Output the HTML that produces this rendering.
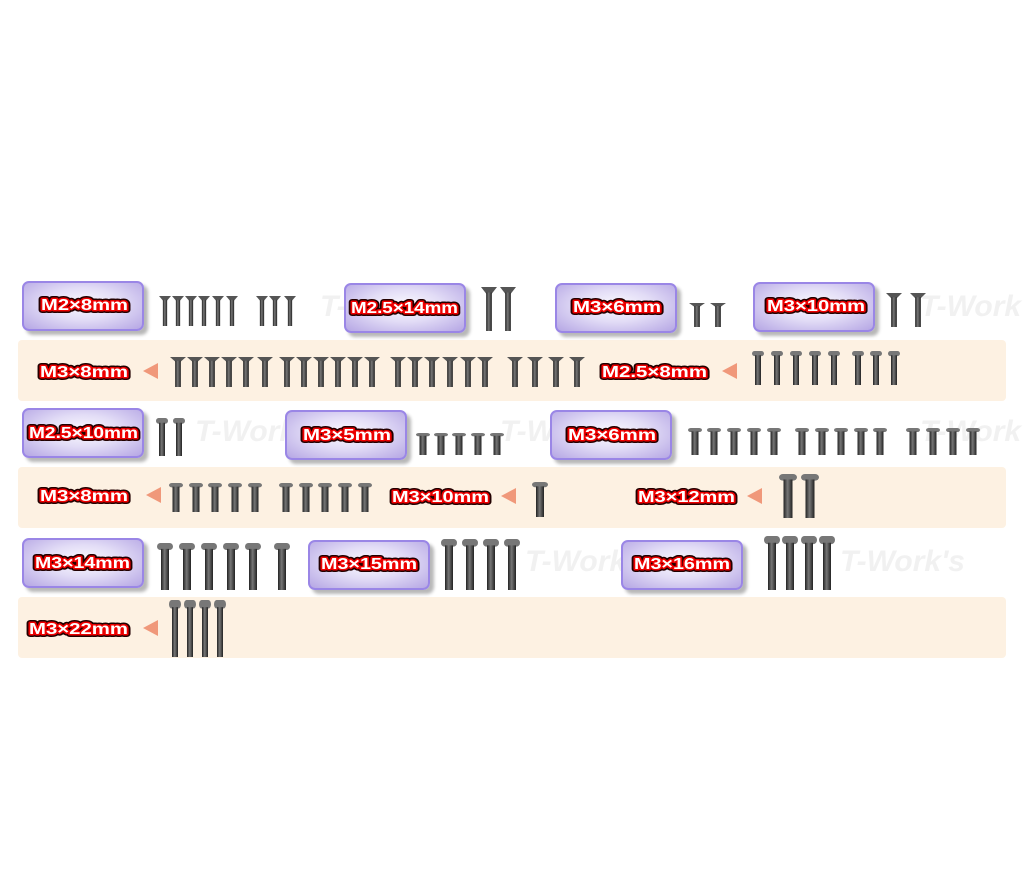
<!DOCTYPE html>
<html><head><meta charset="utf-8"><style>
body{margin:0;width:1024px;height:874px;background:#fff;position:relative;overflow:hidden;font-family:"Liberation Sans",sans-serif}
.band{position:absolute;left:18px;width:988px;height:61px;background:#fdf1e2;border-radius:4px}
.box{position:absolute;width:118px;height:46px;border:2px solid #9a86e6;border-radius:7px;background:radial-gradient(ellipse at 50% 45%,#fbfaff 0%,#e2dcf6 45%,#b5a6e4 100%);box-shadow:4px 4px 3px #b8b8b8}
.tri{position:absolute;width:0;height:0;border-top:8px solid transparent;border-bottom:8px solid transparent;border-right:15px solid #f0987a}
.wm{position:absolute;color:#f1f1f1;font-size:30px;font-style:italic;font-weight:bold;white-space:nowrap}
svg{position:absolute;left:0;top:0}
text{font-family:"Liberation Sans",sans-serif;font-weight:bold;font-size:16px}
.o{stroke:#200;stroke-width:6;stroke-linejoin:round;fill:#200}
.r{stroke:#e00;stroke-width:3;stroke-linejoin:round;fill:#fff;paint-order:stroke fill}
</style></head><body>
<div class="band" style="top:340px"></div>
<div class="band" style="top:467px"></div>
<div class="band" style="top:597px"></div>
<div class="wm" style="left:320px;top:290px">T-Work's</div>
<div class="wm" style="left:920px;top:290px">T-Work's</div>
<div class="wm" style="left:195px;top:415px">T-Work's</div>
<div class="wm" style="left:500px;top:415px">T-Work's</div>
<div class="wm" style="left:920px;top:415px">T-Work's</div>
<div class="wm" style="left:525px;top:545px">T-Work's</div>
<div class="wm" style="left:840px;top:545px">T-Work's</div>

<div class="box" style="left:22px;top:281px"></div>
<div class="box" style="left:344px;top:283px"></div>
<div class="box" style="left:555px;top:283px"></div>
<div class="box" style="left:753px;top:282px"></div>
<div class="tri" style="left:143px;top:363px"></div>
<div class="tri" style="left:722px;top:363px"></div>
<div class="box" style="left:22px;top:408px"></div>
<div class="box" style="left:285px;top:410px"></div>
<div class="box" style="left:550px;top:410px"></div>
<div class="tri" style="left:146px;top:487px"></div>
<div class="tri" style="left:501px;top:488px"></div>
<div class="tri" style="left:747px;top:488px"></div>
<div class="box" style="left:22px;top:538px"></div>
<div class="box" style="left:308px;top:540px"></div>
<div class="box" style="left:621px;top:540px"></div>
<div class="tri" style="left:143px;top:620px"></div>

<svg width="1024" height="874">
<defs>
<linearGradient id="g" x1="0" x2="1"><stop offset="0" stop-color="#222"/><stop offset=".45" stop-color="#777"/><stop offset="1" stop-color="#222"/></linearGradient>
<symbol id="cs" viewBox="0 0 14 40" preserveAspectRatio="none"><polygon points="0,0 14,0 9.5,6 4.5,6" fill="#555"/><rect x="4.5" y="5" width="5" height="35" fill="url(#g)"/></symbol>
<symbol id="bt" viewBox="0 0 14 40" preserveAspectRatio="none"><rect x="0" y="0" width="14" height="6" rx="3" fill="#777"/><rect x="3.5" y="5" width="7" height="35" fill="url(#g)"/></symbol>
</defs>
<g>
<text class="o" x="41" y="310" textLength="87" lengthAdjust="spacingAndGlyphs">M2×8mm</text><text class="r" x="41" y="310" textLength="87" lengthAdjust="spacingAndGlyphs">M2×8mm</text>
<text class="o" x="351" y="313" textLength="107" lengthAdjust="spacingAndGlyphs">M2.5×14mm</text><text class="r" x="351" y="313" textLength="107" lengthAdjust="spacingAndGlyphs">M2.5×14mm</text>
<text class="o" x="573" y="312" textLength="88" lengthAdjust="spacingAndGlyphs">M3×6mm</text><text class="r" x="573" y="312" textLength="88" lengthAdjust="spacingAndGlyphs">M3×6mm</text>
<text class="o" x="767" y="311" textLength="98" lengthAdjust="spacingAndGlyphs">M3×10mm</text><text class="r" x="767" y="311" textLength="98" lengthAdjust="spacingAndGlyphs">M3×10mm</text>
<text class="o" x="40" y="377" textLength="88" lengthAdjust="spacingAndGlyphs">M3×8mm</text><text class="r" x="40" y="377" textLength="88" lengthAdjust="spacingAndGlyphs">M3×8mm</text>
<text class="o" x="602" y="377" textLength="105" lengthAdjust="spacingAndGlyphs">M2.5×8mm</text><text class="r" x="602" y="377" textLength="105" lengthAdjust="spacingAndGlyphs">M2.5×8mm</text>
<text class="o" x="29" y="438" textLength="109" lengthAdjust="spacingAndGlyphs">M2.5×10mm</text><text class="r" x="29" y="438" textLength="109" lengthAdjust="spacingAndGlyphs">M2.5×10mm</text>
<text class="o" x="303" y="440" textLength="88" lengthAdjust="spacingAndGlyphs">M3×5mm</text><text class="r" x="303" y="440" textLength="88" lengthAdjust="spacingAndGlyphs">M3×5mm</text>
<text class="o" x="568" y="440" textLength="88" lengthAdjust="spacingAndGlyphs">M3×6mm</text><text class="r" x="568" y="440" textLength="88" lengthAdjust="spacingAndGlyphs">M3×6mm</text>
<text class="o" x="40" y="501" textLength="88" lengthAdjust="spacingAndGlyphs">M3×8mm</text><text class="r" x="40" y="501" textLength="88" lengthAdjust="spacingAndGlyphs">M3×8mm</text>
<text class="o" x="392" y="502" textLength="97" lengthAdjust="spacingAndGlyphs">M3×10mm</text><text class="r" x="392" y="502" textLength="97" lengthAdjust="spacingAndGlyphs">M3×10mm</text>
<text class="o" x="638" y="502" textLength="97" lengthAdjust="spacingAndGlyphs">M3×12mm</text><text class="r" x="638" y="502" textLength="97" lengthAdjust="spacingAndGlyphs">M3×12mm</text>
<text class="o" x="35" y="568" textLength="95" lengthAdjust="spacingAndGlyphs">M3×14mm</text><text class="r" x="35" y="568" textLength="95" lengthAdjust="spacingAndGlyphs">M3×14mm</text>
<text class="o" x="321" y="569" textLength="96" lengthAdjust="spacingAndGlyphs">M3×15mm</text><text class="r" x="321" y="569" textLength="96" lengthAdjust="spacingAndGlyphs">M3×15mm</text>
<text class="o" x="634" y="569" textLength="96" lengthAdjust="spacingAndGlyphs">M3×16mm</text><text class="r" x="634" y="569" textLength="96" lengthAdjust="spacingAndGlyphs">M3×16mm</text>
<text class="o" x="29" y="634" textLength="99" lengthAdjust="spacingAndGlyphs">M3×22mm</text><text class="r" x="29" y="634" textLength="99" lengthAdjust="spacingAndGlyphs">M3×22mm</text>
</g>
<g>
<use href="#cs" x="159" y="296" width="12" height="30"/><use href="#cs" x="172" y="296" width="12" height="30"/><use href="#cs" x="185" y="296" width="12" height="30"/><use href="#cs" x="198" y="296" width="12" height="30"/><use href="#cs" x="212" y="296" width="12" height="30"/><use href="#cs" x="226" y="296" width="12" height="30"/>
<use href="#cs" x="256" y="296" width="12" height="30"/><use href="#cs" x="269" y="296" width="12" height="30"/><use href="#cs" x="284" y="296" width="12" height="30"/>
<use href="#cs" x="481" y="287" width="16" height="44"/><use href="#cs" x="500" y="287" width="16" height="44"/>
<use href="#cs" x="689" y="303" width="16" height="24"/><use href="#cs" x="710" y="303" width="16" height="24"/>
<use href="#cs" x="886" y="293" width="16" height="34"/><use href="#cs" x="910" y="293" width="16" height="34"/>

<use href="#cs" x="170" y="357" width="16" height="30"/><use href="#cs" x="187" y="357" width="16" height="30"/><use href="#cs" x="204" y="357" width="16" height="30"/><use href="#cs" x="221" y="357" width="16" height="30"/><use href="#cs" x="238" y="357" width="16" height="30"/><use href="#cs" x="257" y="357" width="16" height="30"/>
<use href="#cs" x="279" y="357" width="16" height="30"/><use href="#cs" x="296" y="357" width="16" height="30"/><use href="#cs" x="313" y="357" width="16" height="30"/><use href="#cs" x="330" y="357" width="16" height="30"/><use href="#cs" x="347" y="357" width="16" height="30"/><use href="#cs" x="364" y="357" width="16" height="30"/>
<use href="#cs" x="390" y="357" width="16" height="30"/><use href="#cs" x="407" y="357" width="16" height="30"/><use href="#cs" x="424" y="357" width="16" height="30"/><use href="#cs" x="442" y="357" width="16" height="30"/><use href="#cs" x="460" y="357" width="16" height="30"/><use href="#cs" x="477" y="357" width="16" height="30"/>
<use href="#cs" x="507" y="357" width="16" height="30"/><use href="#cs" x="527" y="357" width="16" height="30"/><use href="#cs" x="548" y="357" width="16" height="30"/><use href="#cs" x="569" y="357" width="16" height="30"/>
<use href="#bt" x="752" y="351" width="12" height="34"/><use href="#bt" x="771" y="351" width="12" height="34"/><use href="#bt" x="790" y="351" width="12" height="34"/><use href="#bt" x="809" y="351" width="12" height="34"/><use href="#bt" x="828" y="351" width="12" height="34"/>
<use href="#bt" x="852" y="351" width="12" height="34"/><use href="#bt" x="870" y="351" width="12" height="34"/><use href="#bt" x="888" y="351" width="12" height="34"/>

<use href="#bt" x="156" y="418" width="12" height="38"/><use href="#bt" x="173" y="418" width="12" height="38"/>
<use href="#bt" x="416" y="433" width="14" height="22"/><use href="#bt" x="434" y="433" width="14" height="22"/><use href="#bt" x="452" y="433" width="14" height="22"/><use href="#bt" x="471" y="433" width="14" height="22"/><use href="#bt" x="490" y="433" width="14" height="22"/>
<use href="#bt" x="688" y="428" width="14" height="27"/><use href="#bt" x="707" y="428" width="14" height="27"/><use href="#bt" x="727" y="428" width="14" height="27"/><use href="#bt" x="747" y="428" width="14" height="27"/><use href="#bt" x="767" y="428" width="14" height="27"/>
<use href="#bt" x="795" y="428" width="14" height="27"/><use href="#bt" x="815" y="428" width="14" height="27"/><use href="#bt" x="834" y="428" width="14" height="27"/><use href="#bt" x="854" y="428" width="14" height="27"/><use href="#bt" x="873" y="428" width="14" height="27"/>
<use href="#bt" x="906" y="428" width="14" height="27"/><use href="#bt" x="926" y="428" width="14" height="27"/><use href="#bt" x="946" y="428" width="14" height="27"/><use href="#bt" x="966" y="428" width="14" height="27"/>

<use href="#bt" x="169" y="483" width="14" height="29"/><use href="#bt" x="189" y="483" width="14" height="29"/><use href="#bt" x="208" y="483" width="14" height="29"/><use href="#bt" x="228" y="483" width="14" height="29"/><use href="#bt" x="248" y="483" width="14" height="29"/>
<use href="#bt" x="279" y="483" width="14" height="29"/><use href="#bt" x="299" y="483" width="14" height="29"/><use href="#bt" x="318" y="483" width="14" height="29"/><use href="#bt" x="338" y="483" width="14" height="29"/><use href="#bt" x="358" y="483" width="14" height="29"/>
<use href="#bt" x="532" y="482" width="16" height="35"/>
<use href="#bt" x="779" y="474" width="18" height="44"/><use href="#bt" x="801" y="474" width="18" height="44"/>

<use href="#bt" x="157" y="543" width="16" height="47"/><use href="#bt" x="179" y="543" width="16" height="47"/><use href="#bt" x="201" y="543" width="16" height="47"/><use href="#bt" x="223" y="543" width="16" height="47"/><use href="#bt" x="245" y="543" width="16" height="47"/><use href="#bt" x="274" y="543" width="16" height="47"/>
<use href="#bt" x="441" y="539" width="16" height="51"/><use href="#bt" x="462" y="539" width="16" height="51"/><use href="#bt" x="483" y="539" width="16" height="51"/><use href="#bt" x="504" y="539" width="16" height="51"/>
<use href="#bt" x="764" y="536" width="16" height="54"/><use href="#bt" x="782" y="536" width="16" height="54"/><use href="#bt" x="801" y="536" width="16" height="54"/><use href="#bt" x="819" y="536" width="16" height="54"/>

<use href="#bt" x="169" y="600" width="12" height="57"/><use href="#bt" x="184" y="600" width="12" height="57"/><use href="#bt" x="199" y="600" width="12" height="57"/><use href="#bt" x="214" y="600" width="12" height="57"/>
</g>
</svg>
</body></html>
